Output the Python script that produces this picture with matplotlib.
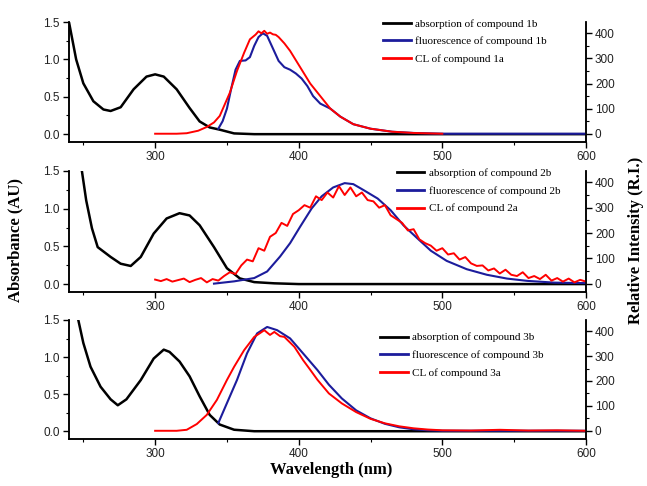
import numpy as np
import matplotlib
matplotlib.use('Agg')
import matplotlib.pyplot as plt
from matplotlib.ticker import MultipleLocator

# panel 1: compound 1
abs1_x = [240, 245, 250, 257, 264, 269, 276, 285, 294, 300, 306, 315, 324, 331, 338, 345, 355, 369, 400, 500, 600]
abs1_y = [1.5, 1.0, 0.68, 0.44, 0.33, 0.31, 0.36, 0.6, 0.77, 0.8, 0.77, 0.6, 0.35, 0.17, 0.09, 0.06, 0.01, 0.0, 0.0, 0.0, 0.0]
fl1_x = [344, 347, 350, 353, 356, 359, 363, 366, 369, 372, 375, 378, 382, 386, 390, 394, 398, 402, 406, 410,
         415, 422, 429, 438, 450, 465, 480, 500, 600]
fl1_y = [20, 50, 100, 180, 255, 290, 292, 305, 350, 385, 400, 390, 340, 290, 265, 255, 240, 220, 190, 150,
         120, 100, 68, 38, 20, 8, 3, 0, 0]
cl1_x = [300, 315, 322, 330, 336, 341, 345, 352, 357, 362, 366, 370, 372, 374, 376, 378, 380, 382, 384, 386,
         390, 394, 401, 408, 415, 422, 429, 438, 450, 465, 480, 500]
cl1_y = [0, 0, 2, 12, 27, 45, 71, 163, 250, 323, 376, 395, 408, 400, 410, 398, 403, 396, 394, 385,
         360, 330, 265, 200, 150, 100, 68, 38, 20, 8, 3, 0]

# panel 2: compound 2
abs2_x = [249, 252, 256, 260, 269, 276, 283, 290, 299, 308, 317, 324, 331, 341, 350, 359, 369, 383, 400, 600]
abs2_y = [1.5, 1.11, 0.74, 0.49, 0.36, 0.27, 0.24, 0.36, 0.67, 0.87, 0.94, 0.91, 0.78, 0.49, 0.21, 0.075, 0.026, 0.01, 0.0, 0.0]
fl2_x = [341, 355, 369, 378, 387, 394, 401, 409, 416, 424, 432, 438, 445, 455, 464, 473, 483, 492, 503, 517,
         531, 545, 559, 578, 600]
fl2_y = [0, 9, 22, 48, 107, 160, 225, 297, 345, 380, 397, 393, 370, 336, 290, 230, 177, 130, 90, 57,
         35, 20, 11, 4, 2]
cl2_x = np.arange(300, 601, 4)
cl2_y = [16, 10, 18, 8, 14, 20, 6, 15, 22, 5, 18,
         12, 30, 45, 38, 72, 95, 88, 140, 130, 185, 200, 240, 228, 275, 290, 310, 300, 345, 330, 360,
         340, 385, 350, 380, 345, 360, 330, 325, 300, 310, 270, 255, 240, 210, 215, 175, 160, 150, 130,
         140, 115, 120, 95, 105, 80, 70, 72, 52, 60, 40, 55, 35, 30, 45, 22, 30, 18, 35, 12,
         22, 8, 20, 5, 15, 8]

# panel 3: compound 3
abs3_x = [246.5, 250, 255, 262, 269, 274, 280, 290, 299, 306, 310, 317, 324, 331, 338, 345, 355, 369, 600]
abs3_y = [1.5, 1.19, 0.87, 0.6, 0.43, 0.35, 0.43, 0.69, 0.98, 1.1, 1.07, 0.94, 0.74, 0.47, 0.22, 0.09, 0.02, 0.0, 0.0]
fl3_x = [344, 350, 357, 364, 371, 378, 385, 394, 403, 413, 421, 430, 440, 450, 460, 470, 480, 490, 500, 600]
fl3_y = [31, 111, 204, 311, 391, 417, 404, 371, 311, 244, 185, 130, 82, 50, 28, 14, 6, 2, 0, 0]
cl3_x = [300, 315, 322, 329, 336, 343, 350, 355, 362, 369, 373, 376, 380, 383, 387, 390, 397, 403, 408, 413,
         421, 430, 440, 450, 460, 470, 480, 490, 500, 520, 540, 560, 580, 600]
cl3_y = [0, 0, 4, 27, 64, 124, 204, 257, 324, 377, 392, 404, 385, 397, 380, 377, 337, 284, 245, 205,
         150, 110, 75, 48, 30, 18, 10, 5, 2, 1, 4, 1, 2, 0]

panels = [
    (abs1_x, abs1_y, fl1_x, fl1_y, cl1_x, cl1_y, '1b', '1a'),
    (abs2_x, abs2_y, fl2_x, fl2_y, cl2_x, cl2_y, '2b', '2a'),
    (abs3_x, abs3_y, fl3_x, fl3_y, cl3_x, cl3_y, '3b', '3a'),
]

rects = [[0.1066, 0.7078, 0.799, 0.2469],
         [0.1066, 0.3992, 0.799, 0.2490],
         [0.1066, 0.0967, 0.799, 0.2449]]
leg_pos = [(0.607, 1.025), (0.634, 1.02), (0.602, 0.893)]

sans = 'Liberation Sans'
serif = 'Liberation Serif'
blue = '#1c1c9c'

fig = plt.figure(figsize=(6.47, 4.86), dpi=100)

for i, (ax_x, ax_y, fx, fy, cx, cy, fname, cname) in enumerate(panels):
    ax = fig.add_axes(rects[i])
    ax2 = ax.twinx()
    l1, = ax.plot(ax_x, ax_y, color='black', lw=1.8)
    l2, = ax2.plot(fx, fy, color=blue, lw=1.5)
    l3, = ax2.plot(cx, cy, color='red', lw=1.4)
    ax.set_xlim(240, 600)
    ax.set_ylim(-0.105, 1.5)
    ax2.set_ylim(-33, 445)
    ax.xaxis.set_major_locator(MultipleLocator(100))
    ax.xaxis.set_minor_locator(MultipleLocator(50))
    ax.yaxis.set_major_locator(MultipleLocator(0.5))
    ax.yaxis.set_minor_locator(MultipleLocator(0.25))
    ax2.yaxis.set_major_locator(MultipleLocator(100))
    ax2.yaxis.set_minor_locator(MultipleLocator(50))
    for a in (ax, ax2):
        a.spines['top'].set_visible(False)
        for s in a.spines.values():
            s.set_linewidth(1.1)
        a.tick_params(which='major', length=4.5, width=1.0, direction='out', labelsize=8, pad=2)
        a.tick_params(which='minor', length=2.5, width=0.8, direction='out')
    ax.set_xticks([300, 400, 500, 600])
    ax.set_yticks([0.0, 0.5, 1.0, 1.5])
    ax.set_yticklabels(['0.0', '0.5', '1.0', '1.5'], fontfamily=sans, fontsize=8.5, color='#222222')
    ax.set_xticklabels(['300', '400', '500', '600'], fontfamily=sans, fontsize=8.5, color='#222222')
    ax2.set_yticks([0, 100, 200, 300, 400])
    ax2.set_yticklabels(['0', '100', '200', '300', '400'], fontfamily=sans, fontsize=8.5, color='#222222')
    leg = ax2.legend([l1, l2, l3],
                     ['absorption of compound ' + fname,
                      'fluorescence of compound ' + fname,
                      'CL of compound ' + cname],
                     loc='upper left', bbox_to_anchor=leg_pos[i], frameon=False,
                     prop={'family': serif, 'size': 8}, handlelength=2.5,
                     handletextpad=0.4, labelspacing=0.7, borderpad=0, borderaxespad=0)
    for h in leg.get_lines():
        h.set_linewidth(2.0)

fig.text(15 / 647, 1 - 240 / 486, 'Absorbance (AU)', rotation=90, ha='center', va='center',
         fontfamily=serif, fontweight='bold', fontsize=12)
fig.text(636 / 647, 1 - 240 / 486, 'Relative Intensity (R.I.)', rotation=90, ha='center', va='center',
         fontfamily=serif, fontweight='bold', fontsize=12)
fig.text(331 / 647, 1 - 470 / 486, 'Wavelength (nm)', ha='center', va='center',
         fontfamily=serif, fontweight='bold', fontsize=12)

fig.savefig('out.png', dpi=100)
